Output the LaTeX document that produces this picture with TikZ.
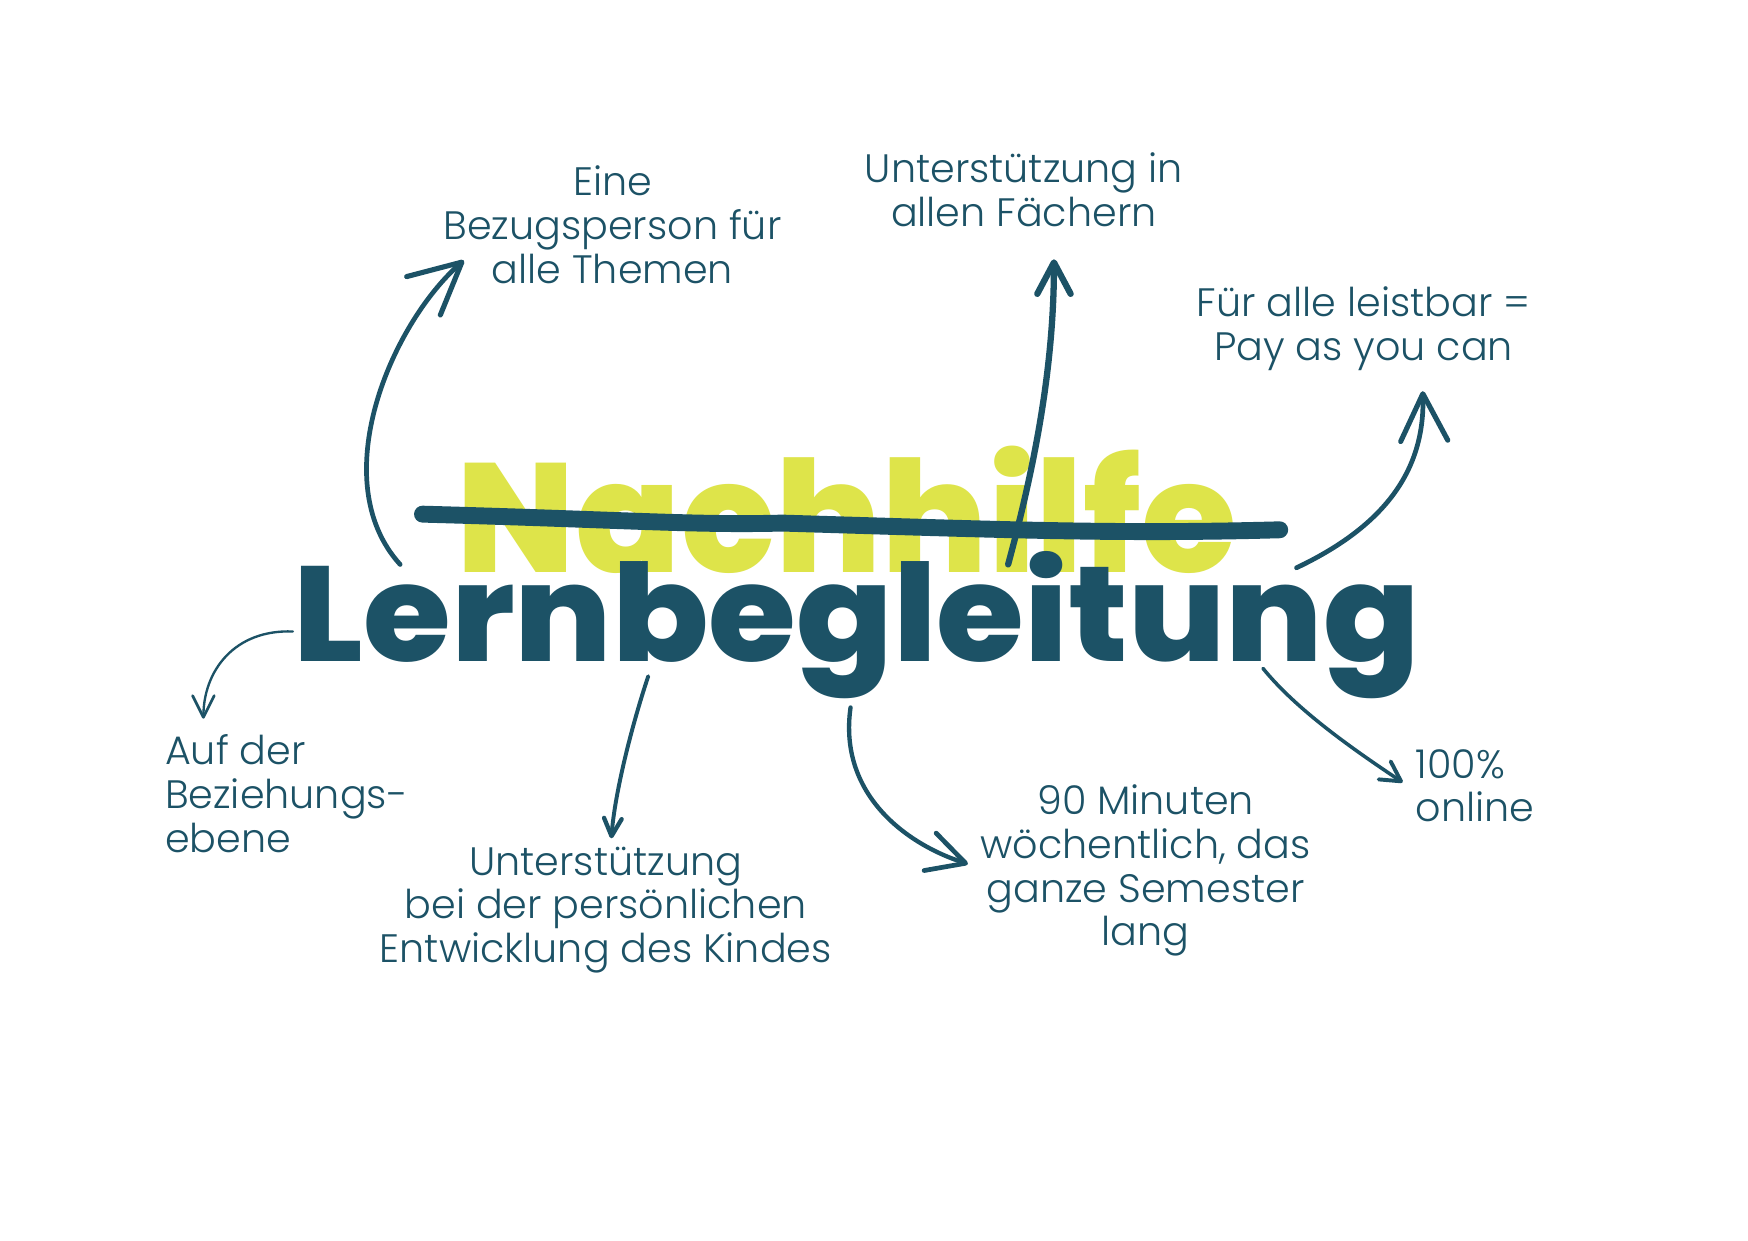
\documentclass[tikz,border=0pt]{standalone}
\usepackage{fontspec}
\setmainfont{Poppins}
\newfontfamily\lightf{Poppins Light}
\newfontfamily\heavyf{Poppins ExtraBold}
\usetikzlibrary{arrows.meta}
\definecolor{tealc}{RGB}{28,82,102}
\definecolor{lime}{RGB}{222,228,74}
\begin{document}
\begin{tikzpicture}[x=0.1mm,y=-0.1mm,
  lbl/.style={text=tealc, inner sep=0pt, font=\lightf\fontsize{10.1}{11.1}\selectfont},
  arr/.style={draw=tealc, line cap=round, line join=round}
]
\useasboundingbox (0,0) rectangle (1564,1109.6);
\fill[white] (0,0) rectangle (1564,1109.6);
% titles
\node[anchor=base west, inner sep=0pt, text=lime, font=\heavyf\fontsize{39.5}{39.5}\selectfont] (nach) at (408,512) {Nachhilfe};
\coordinate (s1) at (378,460);
\coordinate (s2) at (700,468);
\coordinate (s3) at (1145,474);
\draw[tealc, line width=4.3pt, line cap=round] (s1) .. controls (560,465) and (620,470) .. (s2) .. controls (900,474) and (1000,478) .. (s3);
\node[anchor=base west, inner sep=0pt, text=tealc, font=\heavyf\fontsize{36.2}{36.2}\selectfont] (lern) at (262,592) {\scalebox{1}[0.95]{Lernbegleitung}};
% labels
\node[lbl, align=center] (l1) at (548,201) {Eine\\Bezugsperson für\\alle Themen};
\node[lbl, align=center] (l2) at (916,170) {Unterstützung in\\allen Fächern};
\node[lbl, align=center] (l3) at (1220,294) {Für alle leistbar =\\Pay as you can};
\node[lbl, align=left, anchor=west] (l4) at (147,710) {Auf der\\Beziehungs-\\ebene};
\node[lbl, align=center] (l5) at (542,814) {Unterstützung\\bei der persönlichen\\Entwicklung des Kindes};
\node[lbl, align=center] (l6) at (1025,779) {90 Minuten\\wöchentlich, das\\ganze Semester\\lang};
\node[lbl, align=left, anchor=west] (l7) at (1266,703) {100\%\\online};
% arrow coordinates
\coordinate (a1s) at (358,505); \coordinate (a1e) at (415,233);
\coordinate (a2s) at (902,505); \coordinate (a2e) at (943,232);
\coordinate (a3s) at (1160,508); \coordinate (a3e) at (1273,350);
\coordinate (a4s) at (262,565); \coordinate (a4e) at (182,643);
\coordinate (a5s) at (580,605); \coordinate (a5e) at (547,750);
\coordinate (a6s) at (761,633); \coordinate (a6e) at (866,773);
\coordinate (a7s) at (1130,598); \coordinate (a7e) at (1255,700);
\draw[arr, line width=1.2pt, -{Straight Barb[round,length=13pt,width=13pt,line width=1.3pt]}] (a1s) .. controls (290,430) and (350,290) .. (a1e);
\draw[arr, line width=1.6pt, -{Straight Barb[round,length=8pt,width=8.5pt,line width=1.6pt]}] (a2s) .. controls (925,420) and (943,330) .. (a2e);
\draw[arr, line width=1.2pt, -{Straight Barb[round,length=12pt,width=12pt,line width=1.3pt]}] (a3s) .. controls (1240,470) and (1275,420) .. (a3e);
\draw[arr, line width=0.6pt, -{Straight Barb[round,length=5.5pt,width=5.5pt,line width=0.7pt]}] (a4s) .. controls (210,563) and (182,600) .. (a4e);
\draw[arr, line width=1pt, -{Straight Barb[round,length=4.5pt,width=4.5pt,line width=1.1pt]}] (a5s) .. controls (565,650) and (550,710) .. (a5e);
\draw[arr, line width=1.1pt, -{Straight Barb[round,length=9.5pt,width=10pt,line width=1.2pt]}] (a6s) .. controls (750,710) and (810,755) .. (a6e);
\draw[arr, line width=0.9pt, -{Straight Barb[round,length=5pt,width=5.5pt,line width=1pt]}] (a7s) .. controls (1160,635) and (1210,670) .. (a7e);
\end{tikzpicture}
\end{document}
